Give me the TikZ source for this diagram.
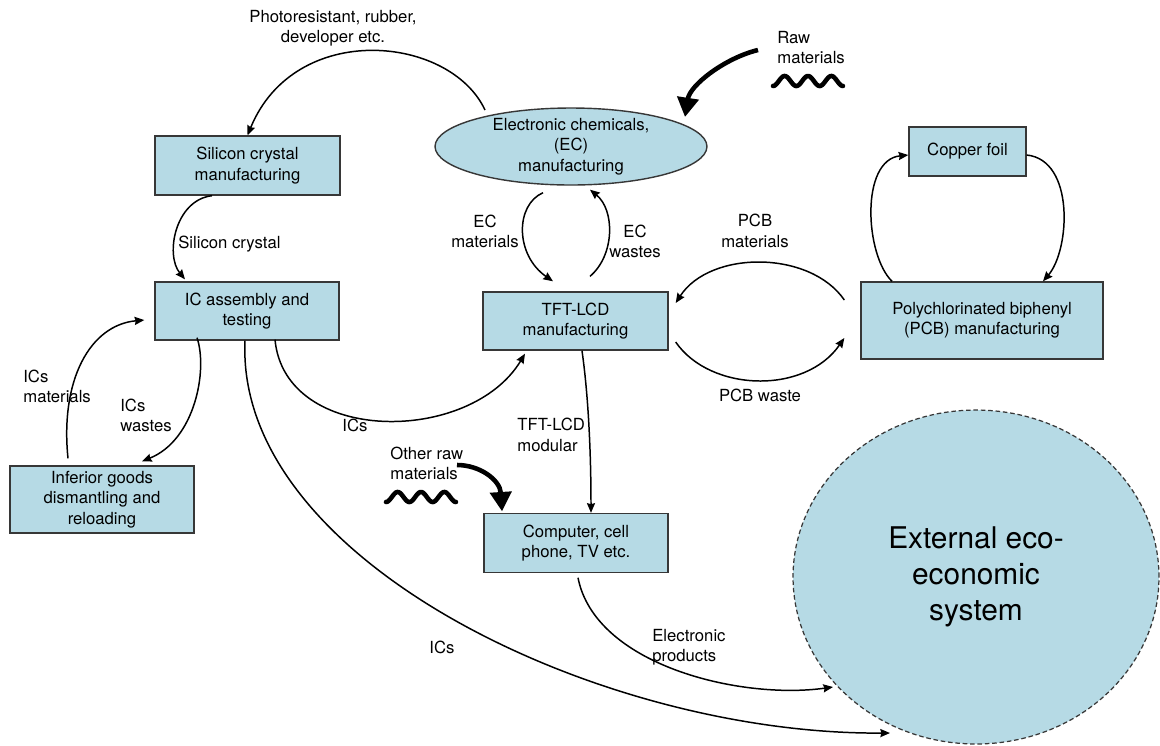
\documentclass[tikz,border=0pt]{standalone}
\usepackage{fontspec}
\setmainfont{TeX Gyre Heros}
\usetikzlibrary{arrows.meta,shapes.geometric,calc}
\definecolor{boxfill}{RGB}{182,218,229}
\definecolor{boxline}{RGB}{55,55,55}
\begin{document}
\begin{tikzpicture}[x=0.02cm,y=-0.02cm,
  every node/.style={font={\fontsize{9.5}{11.6}\selectfont}},
  procbox/.style={draw=boxline, line width=0.8pt, fill=boxfill, rectangle, align=center, inner sep=0pt},
  flow/.style={draw, line width=0.85pt, -{Stealth[length=5.5pt,width=4.6pt,inset=0.6pt]}},
  heavy/.style={line width=2.6pt, -{Triangle[length=11pt,width=12pt]}},
  wave/.style={line width=2.6pt, line cap=round},
  lbl/.style={inner sep=0pt, align=center},
  lbll/.style={inner sep=0pt, align=left, anchor=west},
]
\useasboundingbox[fill=white] (0,0) rectangle (1160,745);

% process boxes
\node[procbox, minimum width=3.7cm, minimum height=1.18cm] (sil) at (247.5,165.5) {Silicon crystal\\manufacturing};
\node[procbox, ellipse, minimum width=5.44cm, minimum height=1.54cm,
      label={[lbl]center:{Electronic chemicals,\\(EC)\\manufacturing}}] (ec) at (571,146.5) {};
\node[procbox, minimum width=2.34cm, minimum height=0.98cm] (cu) at (967.5,151.5) {Copper foil};
\node[procbox, minimum width=4.84cm, minimum height=1.54cm] (pcb) at (982,320.5) {Polychlorinated biphenyl\\(PCB) manufacturing};
\node[procbox, minimum width=3.68cm, minimum height=1.16cm] (ic) at (247,311) {IC assembly and\\testing};
\node[procbox, minimum width=3.7cm, minimum height=1.16cm] (tft) at (575.5,321) {TFT-LCD\\manufacturing};
\node[procbox, minimum width=3.68cm, minimum height=1.34cm] (inf) at (102,499.5) {Inferior goods\\dismantling and\\reloading};
\node[procbox, minimum width=3.68cm, minimum height=1.18cm] (comp) at (576,543) {Computer, cell\\phone, TV etc.};
\node[draw=boxline, fill=boxfill, ellipse, line width=0.7pt, dash pattern=on 2.6pt off 1.6pt,
      minimum width=7.32cm, minimum height=6.68cm, inner sep=0pt, align=center,
      font={\fontsize{17}{20.4}\selectfont}] (ext) at (976,577) {External eco-\\economic\\system};

% free ends of the raw material inputs
\coordinate (rawsrc) at (758,50);
\coordinate (othersrc) at (457,465);

% flows
\draw[flow] ($(ec.center)+(-86,-36.5)$) .. controls (450,35) and (295,20) .. (sil.north);
\draw[flow] ($(sil.south)+(-35.5,0)$) .. controls (175,200) and (165,255) .. ($(ic.north)+(-62,-2)$);
\draw[flow] ($(ec.south)+(-28,7)$) .. controls (515,205) and (515,255) .. ($(tft.north)+(-22.5,-10)$);
\draw[flow] ($(tft.north)+(14.5,-15)$) .. controls (615,255) and (615,210) .. ($(ec.south)+(19,4)$);
\draw[flow] ($(pcb.west)+(-16,-20.5)$) .. controls (810,250) and (710,250) .. ($(tft.east)+(7,-18)$);
\draw[flow] ($(tft.east)+(7,21)$) .. controls (710,392) and (805,395) .. ($(pcb.west)+(-16,17.5)$);
\draw[flow] ($(pcb.north)+(-90,0)$) .. controls (865,255) and (860,160) .. ($(cu.west)+(0,3.5)$);
\draw[flow] ($(cu.east)+(0,3.5)$) .. controls (1075,160) and (1070,250) .. ($(pcb.north)+(61,0)$);
\draw[flow] ($(inf.north)+(-34,-7)$) .. controls (60,380) and (90,325) .. ($(ic.west)+(-10,9)$);
\draw[flow] ($(ic.south)+(-50,-3)$) .. controls (208,370) and (195,440) .. ($(inf.north)+(40,-4)$);
\draw[flow] ($(ic.south)+(28,-1)$) .. controls (285,445) and (470,445) .. ($(tft.south)+(-50.5,3)$);
\draw[flow] ($(ic.south)+(-2,0)$) .. controls (235,560) and (600,735) .. ($(ext.center)+(-86,156)$);
\draw[flow] ($(comp.south)+(2,4.5)$) .. controls (595,665) and (740,700) .. ($(ext.center)+(-143,110)$);
\draw[flow] ($(tft.south)+(6.5,0)$) .. controls (589,400) and (591,460) .. ($(comp.north)+(15,0)$);

% raw material inputs
\draw[heavy] (rawsrc) .. controls (725,58) and (690,85) .. ($(ec.center)+(114,-29.5)$);
\draw[heavy] (othersrc) .. controls (480,465) and (500,480) .. ($(comp.north)+(-74,-1.5)$);
\draw[wave] plot[domain=0:1, samples=80, smooth] ({773+70*\x},{81+5*cos(1080*\x)});
\draw[wave] plot[domain=0:1, samples=80, smooth] ({386+70*\x},{497+5*cos(1080*\x)});

% flow labels
\node[lbl] (lphoto) at (333,28.5) {Photoresistant, rubber,\\developer etc.};
\node[lbll] (lsil) at (178,244) {Silicon crystal};
\node[lbl] (lecm) at (485,231.5) {EC\\materials};
\node[lbl] (lecw) at (635,241.5) {EC\\wastes};
\node[lbl] (lpcbm) at (755,231) {PCB\\materials};
\node[lbl] (lpcbw) at (760,395) {PCB waste};
\node[lbll] (licm) at (23,386.5) {ICs\\materials};
\node[lbll] (licw) at (120,415.5) {ICs\\wastes};
\node[lbl] (lics1) at (355,425) {ICs};
\node[lbll] (ltft) at (517,435) {TFT-LCD\\modular};
\node[lbll] (lother) at (390,463.5) {Other raw\\materials};
\node[lbll] (lelec) at (652,647.5) {Electronic\\products};
\node[lbl] (lics2) at (442,647) {ICs};
\node[lbll] (lraw) at (777,47.5) {Raw\\materials};
\end{tikzpicture}
\end{document}
